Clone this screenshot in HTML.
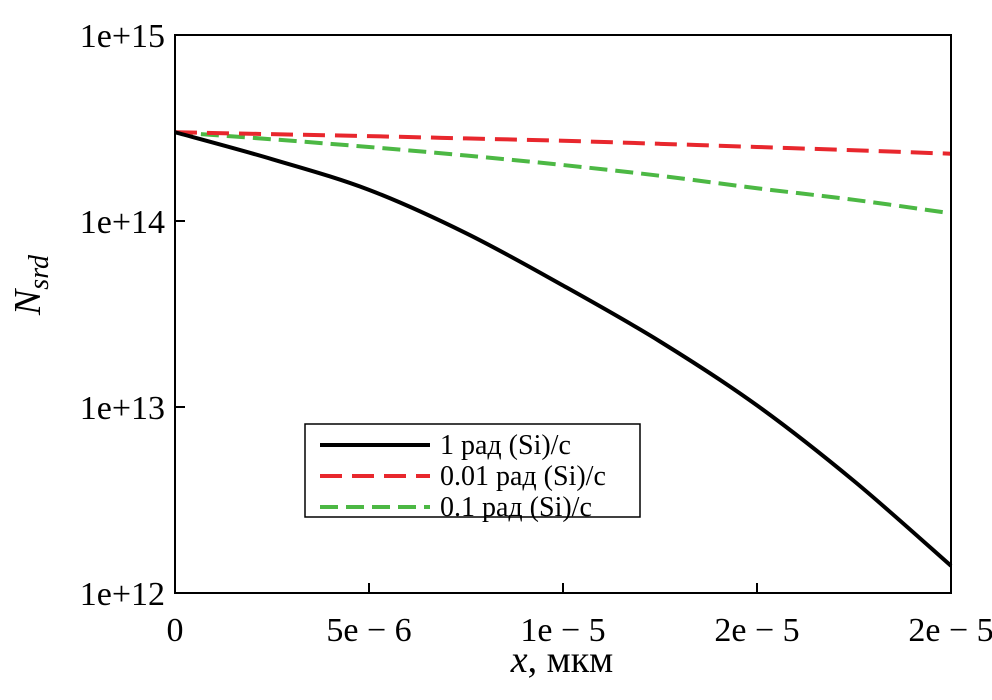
<!DOCTYPE html>
<html><head><meta charset="utf-8"><style>
html,body{margin:0;padding:0;background:#fff;}
svg{display:block;font-family:"Liberation Serif",serif;}
</style></head><body>
<svg id="chart" width="992" height="700">
<g id="series"></g>
<rect x="175" y="35" width="776" height="558" fill="none" stroke="#000" stroke-width="2"/>
<g id="ticks"></g>
<text x="40" y="285" font-size="38" font-style="italic" transform="rotate(-90 40 285)" text-anchor="middle">N<tspan font-size="28" dy="8">srd</tspan></text>
<text x="562" y="672" font-size="38" text-anchor="middle"><tspan font-style="italic">x</tspan>, мкм</text>
<g>
<rect x="305" y="424" width="335" height="93" fill="#fff" stroke="#000" stroke-width="1.5"/>
<line x1="320" y1="445" x2="430" y2="445" stroke="#000" stroke-width="4"/>
<text x="440" y="454" font-size="28">1 рад (Si)/с</text>
<line x1="320" y1="476" x2="430" y2="476" stroke="#e8272d" stroke-width="4" stroke-dasharray="22,10"/>
<text x="440" y="485" font-size="28">0.01 рад (Si)/с</text>
<line x1="320" y1="507" x2="430" y2="507" stroke="#4cb844" stroke-width="4" stroke-dasharray="18,8"/>
<text x="440" y="516" font-size="28">0.1 рад (Si)/с</text>
</g>
</svg>
<script>
const xValues=[0,2.5e-6,5e-6,7.5e-6,1e-5,1.25e-5,1.5e-5,1.75e-5,2e-5];
const seriesBlack=[3e14,2.15e14,1.47e14,8.6e13,4.5e13,2.25e13,1.02e13,4.0e12,1.4e12];
const seriesRed=[3e14,2.93e14,2.86e14,2.78e14,2.7e14,2.6e14,2.5e14,2.4e14,2.3e14];
const seriesGreen=[3e14,2.75e14,2.5e14,2.25e14,2.0e14,1.75e14,1.5e14,1.3e14,1.1e14];
const xTickValues=[0,5e-6,1e-5,1.5e-5,2e-5];
const xTickLabels=["0","5e − 6","1e − 5","2e − 5","2e − 5"];
const yTickValues=[1e12,1e13,1e14,1e15];
const yTickLabels=["1e+12","1e+13","1e+14","1e+15"];
const NS="http://www.w3.org/2000/svg";
function xs(v){return 175+v/2e-5*776;}
function ys(v){return 593-(Math.log10(v)-12)*186;}
const tk=document.getElementById('ticks');
xTickValues.forEach((v,i)=>{
 const l=document.createElementNS(NS,'line');
 l.setAttribute('x1',xs(v));l.setAttribute('x2',xs(v));l.setAttribute('y1',593);l.setAttribute('y2',583);
 l.setAttribute('stroke','#000');l.setAttribute('stroke-width','2');
 
 
 tk.appendChild(l);
 const t=document.createElementNS(NS,'text');
 t.setAttribute('x',xs(v));t.setAttribute('y',641);t.setAttribute('font-size','34');t.setAttribute('text-anchor','middle');
 t.textContent=xTickLabels[i];
 
 
 tk.appendChild(t);
});
yTickValues.forEach((v,i)=>{
 const l=document.createElementNS(NS,'line');
 l.setAttribute('x1',175);l.setAttribute('x2',185);l.setAttribute('y1',ys(v));l.setAttribute('y2',ys(v));
 l.setAttribute('stroke','#000');l.setAttribute('stroke-width','2');
 
 
 tk.appendChild(l);
 const t=document.createElementNS(NS,'text');
 t.setAttribute('x',165);t.setAttribute('y',ys(v)+12);t.setAttribute('font-size','34');t.setAttribute('text-anchor','end');
 t.textContent=yTickLabels[i];
 
 
 tk.appendChild(t);
});
const sg=document.getElementById('series');
function smoothPath(pts){
 let d='M'+pts[0][0]+','+pts[0][1];
 for(let i=0;i<pts.length-1;i++){
  const p0=pts[Math.max(i-1,0)],p1=pts[i],p2=pts[i+1],p3=pts[Math.min(i+2,pts.length-1)];
  const c1x=p1[0]+(p2[0]-p0[0])/6,c1y=p1[1]+(p2[1]-p0[1])/6;
  const c2x=p2[0]-(p3[0]-p1[0])/6,c2y=p2[1]-(p3[1]-p1[1])/6;
  d+=' C'+c1x+','+c1y+' '+c2x+','+c2y+' '+p2[0]+','+p2[1];
 }
 return d;
}
function draw(vals,color,dash,name){
 const p=document.createElementNS(NS,'path');
 p.setAttribute('d',smoothPath(vals.map((v,i)=>[xs(xValues[i]),ys(v)])));
 p.setAttribute('fill','none');p.setAttribute('stroke',color);p.setAttribute('stroke-width','4');
 if(dash)p.setAttribute('stroke-dasharray',dash);
 
 
 sg.appendChild(p);
}
draw(seriesGreen,'#4cb844','18,8','series-0-1-rad');
draw(seriesRed,'#e8272d','22,10','series-0-01-rad');
draw(seriesBlack,'#000','','series-1-rad');
</script>
</body></html>
